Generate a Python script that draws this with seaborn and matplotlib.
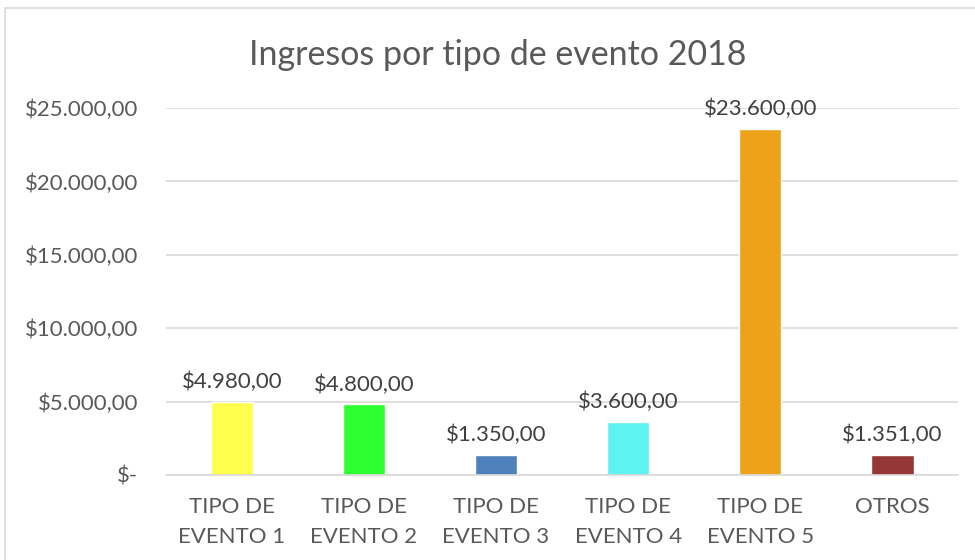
import matplotlib
matplotlib.use("Agg")
import matplotlib.pyplot as plt
import seaborn as sns
import pandas as pd
from matplotlib.patches import Rectangle
from matplotlib.ticker import FuncFormatter

# Datos del gráfico
categorias = ["TIPO DE\nEVENTO 1", "TIPO DE\nEVENTO 2", "TIPO DE\nEVENTO 3",
              "TIPO DE\nEVENTO 4", "TIPO DE\nEVENTO 5", "OTROS"]
ingresos = [4980, 4800, 1350, 3600, 23600, 1351]
colores = ["#FFFF4D", "#2EFF2E", "#4F81BD", "#5EF2F2", "#EDA21A", "#953735"]
ticks_y = [0, 5000, 10000, 15000, 20000, 25000]


def moneda(v, pos=None):
    if v == 0:
        return "$-"
    s = f"{v:,.2f}"
    s = s.replace(",", "X").replace(".", ",").replace("X", ".")
    return "$" + s


sns.set_theme(style="white")
plt.rcParams["font.family"] = ["Lato", "DejaVu Sans"]
texto = "#595959"

df = pd.DataFrame({"categoria": categorias, "ingreso": ingresos})

fig = plt.figure(figsize=(9.75, 5.6), dpi=100)
ax = fig.add_axes([0.170, 0.152, 0.813, 0.655])

sns.barplot(data=df, x="categoria", y="ingreso", hue="categoria",
            palette=colores, width=0.32, legend=False, ax=ax, saturation=1)

ax.set_ylim(0, 25000)
ax.set_yticks(ticks_y)
ax.yaxis.set_major_formatter(FuncFormatter(moneda))
ax.grid(axis="y", color="#D9D9D9", linewidth=1.2)
ax.set_axisbelow(True)
for lado in ["top", "right", "left"]:
    ax.spines[lado].set_visible(False)
ax.spines["bottom"].set_color("#D9D9D9")
ax.spines["bottom"].set_linewidth(1.2)
ax.tick_params(axis="both", length=0, labelsize=16, labelcolor=texto)
ax.tick_params(axis="y", pad=20)
ax.tick_params(axis="x", pad=16)
for lbl in ax.get_xticklabels():
    lbl.set_linespacing(1.6)
ax.set_xlabel("")
ax.set_ylabel("")

for cont in ax.containers:
    ax.bar_label(cont, labels=[moneda(v) for v in cont.datavalues],
                 padding=7, fontsize=16, color="#404040", clip_on=False)

fig.text(0.51, 0.902, "Ingresos por tipo de evento 2018", ha="center",
         va="center", fontsize=24.5, color=texto)

# borde exterior del gráfico
fig.patches.append(Rectangle((5 / 975, -0.05), 1.2, 1 - 8 / 560 + 0.05,
                             transform=fig.transFigure, fill=False,
                             edgecolor="#D9D9D9", linewidth=1.2))

fig.savefig("out.png", dpi=100)
